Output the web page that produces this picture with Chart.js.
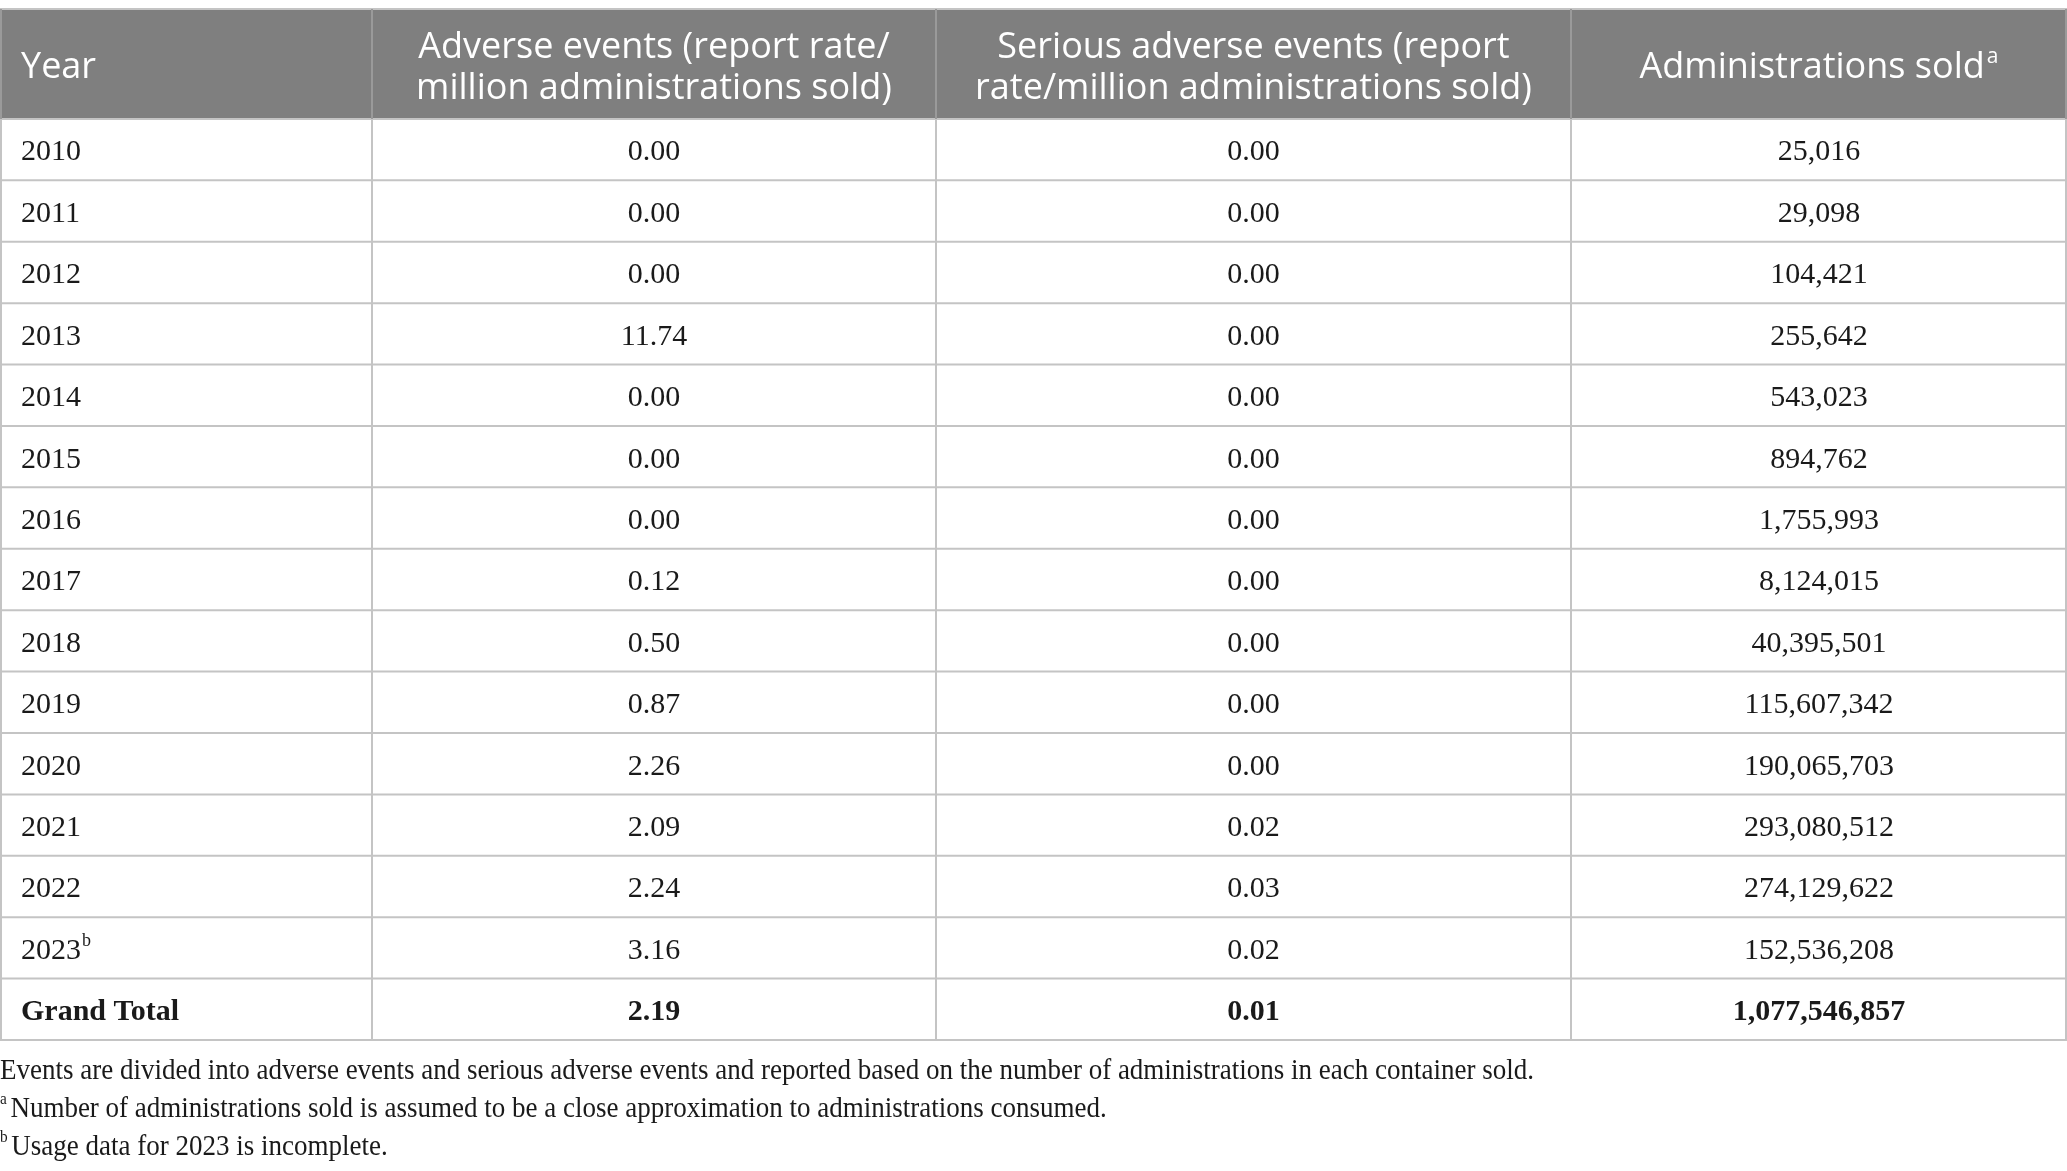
<!DOCTYPE html>
<html>
<head>
<meta charset="utf-8">
<script src="https://cdn.jsdelivr.net/npm/chart.js@4"></script>
<style>
  html, body { margin: 0; padding: 0; background: #fff; }
  canvas { display: block; }
</style>
</head>
<body>
<canvas id="tableChart" width="2067" height="1171"></canvas>
<script>
// table values
const years = ["2010", "2011", "2012", "2013", "2014", "2015", "2016", "2017", "2018", "2019", "2020", "2021", "2022", "2023"];
const yearMarks = ["", "", "", "", "", "", "", "", "", "", "", "", "", "b"];
const adverseRates = [0.00, 0.00, 0.00, 11.74, 0.00, 0.00, 0.00, 0.12, 0.50, 0.87, 2.26, 2.09, 2.24, 3.16];
const seriousRates = [0.00, 0.00, 0.00, 0.00, 0.00, 0.00, 0.00, 0.00, 0.00, 0.00, 0.00, 0.02, 0.03, 0.02];
const adminsSold = [25016, 29098, 104421, 255642, 543023, 894762, 1755993, 8124015, 40395501, 115607342, 190065703, 293080512, 274129622, 152536208];
const totalLabel = "Grand Total";
const totalAdverse = 2.19;
const totalSerious = 0.01;
const totalAdmins = 1077546857;

const headers = [
  ["Year"],
  ["Adverse events (report rate/", "million administrations sold)"],
  ["Serious adverse events (report", "rate/million administrations sold)"],
  ["Administrations sold"]
];
const headerMarks = ["", "", "", "a"];

const footnotes = [
  { mark: "", text: "Events are divided into adverse events and serious adverse events and reported based on the number of administrations in each container sold." },
  { mark: "a", text: "Number of administrations sold is assumed to be a close approximation to administrations consumed." },
  { mark: "b", text: "Usage data for 2023 is incomplete." }
];

// layout (x in table units, y in row units, header is taller than a row)
const colEdges = [0, 372, 936, 1571, 2067];
const headerRows = 1.79;

const fmtRate = (v) => v.toFixed(2);
const fmtCount = (v) => v.toLocaleString("en-US");

const rows = years.map((y, i) => ({
  cells: [y, fmtRate(adverseRates[i]), fmtRate(seriousRates[i]), fmtCount(adminsSold[i])],
  mark: yearMarks[i],
  bold: false
}));
rows.push({
  cells: [totalLabel, fmtRate(totalAdverse), fmtRate(totalSerious), fmtCount(totalAdmins)],
  mark: "",
  bold: true
});

const tablePlugin = {
  id: "tableDraw",
  afterDraw(chart) {
    const ctx = chart.ctx;
    const xs = chart.scales.x;
    const ys = chart.scales.y;
    const X = (v) => xs.getPixelForValue(v);
    const Y = (v) => ys.getPixelForValue(v);
    ctx.save();

    // header background
    ctx.fillStyle = "#7f7f7f";
    ctx.fillRect(X(0), Y(-headerRows), X(colEdges[4]) - X(0), Y(0) - Y(-headerRows));

    // grid
    ctx.strokeStyle = "#c4c4c4";
    ctx.lineWidth = 2;
    for (let r = 0; r <= rows.length; r++) {
      ctx.beginPath();
      ctx.moveTo(X(0), Y(r));
      ctx.lineTo(X(colEdges[4]), Y(r));
      ctx.stroke();
    }
    ctx.beginPath();
    ctx.moveTo(X(0), Y(-headerRows));
    ctx.lineTo(X(colEdges[4]), Y(-headerRows));
    ctx.stroke();
    colEdges.forEach((e, i) => {
      const px = i === 0 ? X(e) + 1 : i === colEdges.length - 1 ? X(e) - 1 : X(e);
      ctx.strokeStyle = "#9a9a9a";
      ctx.beginPath();
      ctx.moveTo(px, Y(-headerRows));
      ctx.lineTo(px, Y(0));
      ctx.stroke();
      ctx.strokeStyle = "#c4c4c4";
      ctx.beginPath();
      ctx.moveTo(px, Y(0));
      ctx.lineTo(px, Y(rows.length));
      ctx.stroke();
    });

    // header text
    const hMid = (Y(-headerRows) + Y(0)) / 2 + 4;
    const hFont = "36px 'Open Sans'";
    const hMarkFont = "21px 'Open Sans'";
    ctx.fillStyle = "#ffffff";
    ctx.textBaseline = "middle";
    headers.forEach((lines, c) => {
      const left = X(colEdges[c]);
      const center = (X(colEdges[c]) + X(colEdges[c + 1])) / 2;
      lines.forEach((line, k) => {
        ctx.font = hFont;
        const ly = hMid + (k - (lines.length - 1) / 2) * 41;
        if (c === 0) {
          ctx.textAlign = "left";
          ctx.fillText(line, left + 21, ly);
        } else {
          const w = ctx.measureText(line).width;
          let mw = 0;
          if (headerMarks[c]) {
            ctx.font = hMarkFont;
            mw = ctx.measureText(headerMarks[c]).width + 2;
            ctx.font = hFont;
          }
          const sx = center - (w + mw) / 2;
          ctx.textAlign = "left";
          ctx.fillText(line, sx, ly);
          if (headerMarks[c]) {
            ctx.font = hMarkFont;
            ctx.fillText(headerMarks[c], sx + w + 2, ly - 11);
          }
        }
      });
    });

    // body text
    ctx.fillStyle = "#1a1a1a";
    rows.forEach((row, r) => {
      const cy = (Y(r) + Y(r + 1)) / 2 + 3;
      const font = (row.bold ? "bold " : "") + "30px 'Liberation Serif'";
      row.cells.forEach((txt, c) => {
        ctx.font = font;
        if (c === 0) {
          ctx.textAlign = "left";
          ctx.fillText(txt, X(colEdges[0]) + 21, cy);
          if (row.mark) {
            const w = ctx.measureText(txt).width;
            ctx.font = "18px 'Liberation Serif'";
            ctx.fillText(row.mark, X(colEdges[0]) + 21 + w + 1, cy - 10);
          }
        } else {
          ctx.textAlign = "center";
          ctx.fillText(txt, (X(colEdges[c]) + X(colEdges[c + 1])) / 2, cy);
        }
      });
    });

    // footnotes under the table
    const base = Y(rows.length);
    ctx.textAlign = "left";
    footnotes.forEach((f, i) => {
      const fy = base + 31 + i * 38;
      ctx.save();
      ctx.translate(X(0), fy);
      ctx.scale(0.9, 1);
      let x = 0;
      if (f.mark) {
        ctx.font = "17px 'Liberation Serif'";
        ctx.fillText(f.mark, 0, -9);
        x = ctx.measureText(f.mark).width + 4;
      }
      ctx.font = "30px 'Liberation Serif'";
      ctx.fillText(f.text, x, 0);
      ctx.restore();
    });

    ctx.restore();
  }
};

new Chart(document.getElementById("tableChart"), {
  type: "scatter",
  data: { datasets: [] },
  options: {
    responsive: false,
    animation: false,
    devicePixelRatio: 1,
    layout: { padding: { top: 9, bottom: 131, left: 0, right: 0 } },
    plugins: { legend: { display: false }, tooltip: { enabled: false } },
    scales: {
      x: { type: "linear", display: false, min: colEdges[0], max: colEdges[colEdges.length - 1] },
      y: { type: "linear", display: false, reverse: true, min: -headerRows, max: rows.length }
    }
  },
  plugins: [tablePlugin]
});
</script>
</body>
</html>
